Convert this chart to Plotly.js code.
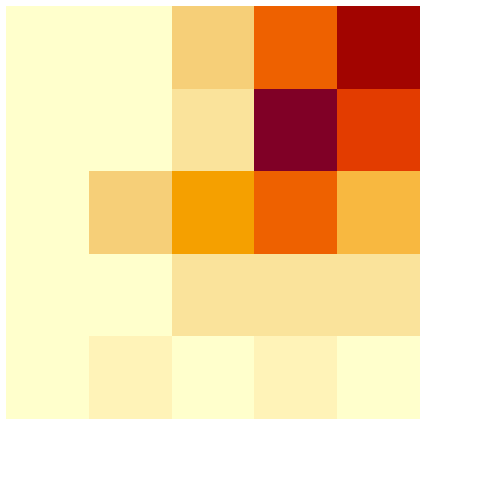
<!DOCTYPE html>
<html>
<head>
<meta charset="utf-8">
<script src="https://cdn.plot.ly/plotly-3.0.1.min.js"></script>
<style>html,body{margin:0;padding:0;background:#fff;}</style>
</head>
<body>
<div id="chart" style="width:500px;height:500px;"></div>
<script>
// Columns and rows (rows listed bottom to top)
const xCats = ["A", "B", "C", "D", "E"];
const yCats = ["1", "2", "3", "4", "5"];
const row1 = [0, 1, 0, 1, 0];
const row2 = [0, 0, 2, 2, 2];
const row3 = [0, 3, 6, 8, 5];
const row4 = [0, 0, 2, 12, 9];
const row5 = [0, 0, 3, 8, 11];

const colorscale = [
  [0, "#FFFFCC"],
  [1/12, "#FFF3B8"],
  [2/12, "#FAE39B"],
  [3/12, "#F6CF78"],
  [5/12, "#F8B840"],
  [6/12, "#F5A000"],
  [8/12, "#EE6100"],
  [9/12, "#E33C00"],
  [11/12, "#A20400"],
  [1, "#800026"]
];

Plotly.newPlot("chart", [{
  type: "heatmap",
  x: xCats,
  y: yCats,
  z: [row1, row2, row3, row4, row5],
  zmin: 0,
  zmax: 12,
  colorscale: colorscale,
  showscale: false,
  hoverinfo: "none"
}], {
  width: 500,
  height: 500,
  margin: {l: 6, r: 80, t: 6, b: 81, pad: 0},
  paper_bgcolor: "#ffffff",
  plot_bgcolor: "#ffffff",
  xaxis: {visible: false, showgrid: false, zeroline: false},
  yaxis: {visible: false, showgrid: false, zeroline: false}
}, {displayModeBar: false, staticPlot: true});
</script>
</body>
</html>
